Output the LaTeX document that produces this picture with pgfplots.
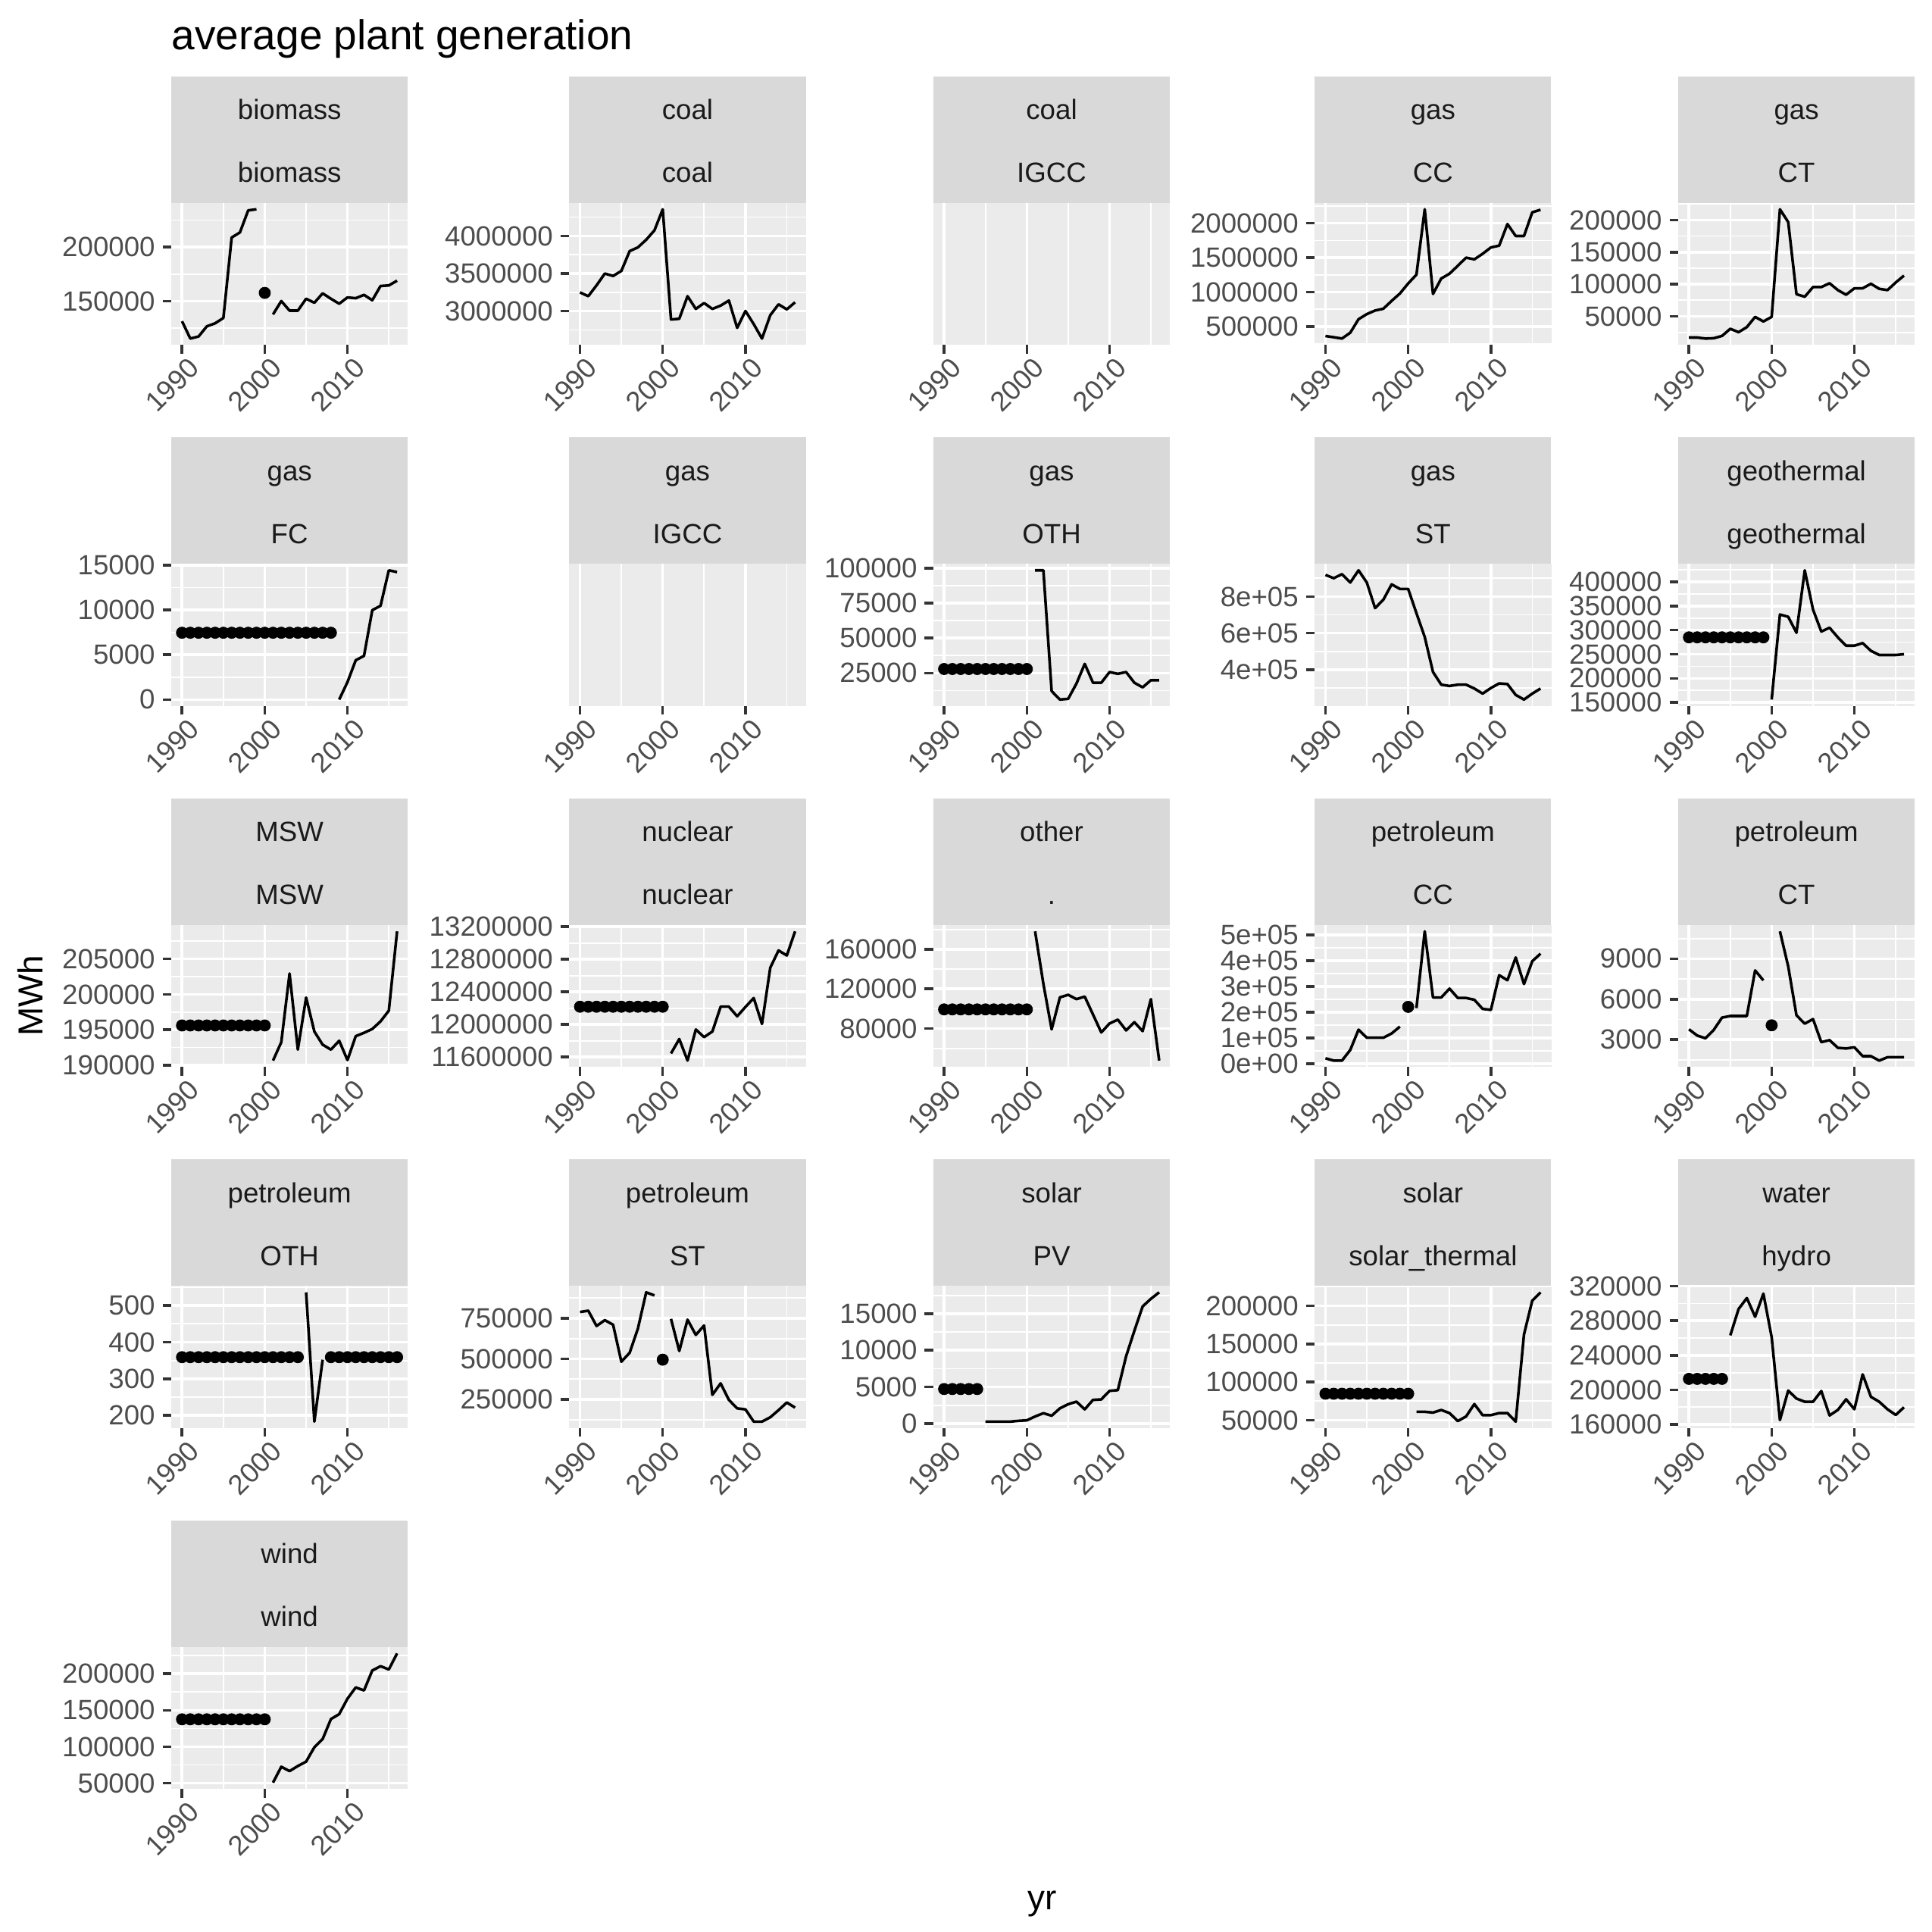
\documentclass[border=0pt]{standalone}
\usepackage{fontspec}
\setmainfont{Liberation Sans}
\usepackage{pgfplots}
\pgfplotsset{compat=1.18}
\definecolor{gg92}{HTML}{EBEBEB}
\definecolor{gg85}{HTML}{D9D9D9}
\definecolor{gg30}{HTML}{4D4D4D}
\definecolor{gg20}{HTML}{333333}
\definecolor{gg10}{HTML}{1A1A1A}
\def\u{0.390306bp}
\pgfplotsset{
  gg/.style={
    scale only axis, width=74.94bp, height=45.04bp,
    anchor=north west,
    xmin=1988.7, xmax=2017.3, enlarge x limits=false,
    enlarge y limits=0.05,
    xtick={1990,2000,2010}, xticklabels={1990,2000,2010},
    minor xtick={1995,2005,2015},
    scaled x ticks=false, scaled y ticks=false,
    axis background/.style={fill=gg92},
    axis line style={draw=none},
    grid=both,
    major grid style={draw=white, line width=0.85bp},
    minor grid style={draw=white, line width=0.43bp},
    tick align=outside, tick pos=left,
    major tick length=2.75bp, minor tick length=0pt,
    major tick style={draw=gg20, line width=0.85bp},
    tick label style={font=\fontsize{8.8bp}{10bp}\selectfont, text=gg30},
    xticklabel style={rotate=45, anchor=north east, inner sep=0pt, xshift=0.8bp, yshift=-1.5bp},
    yticklabel style={anchor=east, inner sep=0pt, xshift=-2.2bp},
  },
  ggline/.style={black, no marks, line width=0.85bp, line join=round, unbounded coords=jump},
  ggpt/.style={only marks, mark=*, mark size=1.8bp, mark options={draw=black, fill=black, line width=0.2bp}},
  ggempty/.style={ymin=0, ymax=1, enlarge y limits=false, ytick=\empty, minor ytick=\empty},
}
\newcommand\strip[4]{%
  \fill[gg85] ({#1},{#2-102.6}) rectangle ({#1+192},{#2});
  \node[anchor=base, inner sep=0pt, text=gg10, font=\fontsize{8.8bp}{10bp}\selectfont] at ({#1+96},{#2-67.6}) {#3};
  \node[anchor=base, inner sep=0pt, text=gg10, font=\fontsize{8.8bp}{10bp}\selectfont] at ({#1+96},{#2-16.6}) {#4};
}
\begin{document}
\begin{tikzpicture}
\path[use as bounding box] (0,0) rectangle ({1568*\u},{-1568*\u});
\begin{scope}[x=\u, y=-\u]
\node[anchor=base west, inner sep=0pt, font=\fontsize{13.2bp}{15bp}\selectfont] at (139,40) {average plant generation};
\node[anchor=base, inner sep=0pt, font=\fontsize{11bp}{13bp}\selectfont] at (846,1550) {yr};
\node[anchor=base, rotate=90, inner sep=0pt, font=\fontsize{11bp}{13bp}\selectfont] at (35,808) {MWh};
\strip{139}{164.6}{biomass}{biomass}
\strip{462}{164.6}{coal}{coal}
\strip{757.5}{164.6}{coal}{IGCC}
\strip{1067}{164.6}{gas}{CC}
\strip{1362}{164.6}{gas}{CT}
\strip{139}{457.6}{gas}{FC}
\strip{462}{457.6}{gas}{IGCC}
\strip{757.5}{457.6}{gas}{OTH}
\strip{1067}{457.6}{gas}{ST}
\strip{1362}{457.6}{geothermal}{geothermal}
\strip{139}{750.6}{MSW}{MSW}
\strip{462}{750.6}{nuclear}{nuclear}
\strip{757.5}{750.6}{other}{.}
\strip{1067}{750.6}{petroleum}{CC}
\strip{1362}{750.6}{petroleum}{CT}
\strip{139}{1043.6}{petroleum}{OTH}
\strip{462}{1043.6}{petroleum}{ST}
\strip{757.5}{1043.6}{solar}{PV}
\strip{1067}{1043.6}{solar}{solar\_thermal}
\strip{1362}{1043.6}{water}{hydro}
\strip{139}{1336.6}{wind}{wind}
\end{scope}

% ---------- row 1
\begin{axis}[gg, at={({139*\u},{-164.6*\u})},
  ytick={150000,200000}, yticklabels={150000,200000}, minor ytick={125000,175000,225000}]
\addplot[ggline] coordinates {(1990,131500)(1991,115500)(1992,117400)(1993,126800)(1994,129600)(1995,134500)(1996,208900)(1997,213600)(1998,234000)(1999,235000)(2000,nan)(2001,137800)(2002,150200)(2003,141300)(2004,141300)(2005,152300)(2006,148600)(2007,157300)(2008,152300)(2009,147700)(2010,153500)(2011,152800)(2012,155900)(2013,150900)(2014,164100)(2015,164600)(2016,169000)};
\addplot[ggpt] coordinates {(2000,157700)};
\end{axis}

\begin{axis}[gg, at={({462*\u},{-164.6*\u})},
  ytick={3000000,3500000,4000000}, yticklabels={3000000,3500000,4000000}, minor ytick={2750000,3250000,3750000,4250000}]
\addplot[ggline] coordinates {(1990,3249000)(1991,3199000)(1992,3343000)(1993,3500000)(1994,3468000)(1995,3535000)(1996,3798000)(1997,3848000)(1998,3949000)(1999,4074000)(2000,4354000)(2001,2889000)(2002,2899000)(2003,3199000)(2004,3030000)(2005,3108000)(2006,3030000)(2007,3074000)(2008,3141000)(2009,2778000)(2010,3003000)(2011,2828000)(2012,2636000)(2013,2946000)(2014,3091000)(2015,3024000)(2016,3118000)};
\end{axis}

\begin{axis}[gg, ggempty, at={({757.5*\u},{-164.6*\u})}]
\end{axis}

\begin{axis}[gg, at={({1067*\u},{-164.6*\u})},
  ytick={500000,1000000,1500000,2000000}, yticklabels={500000,1000000,1500000,2000000}, minor ytick={250000,750000,1250000,1750000,2250000}]
\addplot[ggline] coordinates {(1990,363000)(1991,345000)(1992,326000)(1993,411000)(1994,607000)(1995,681000)(1996,733000)(1997,759000)(1998,873000)(1999,980000)(2000,1126000)(2001,1254000)(2002,2203000)(2003,973000)(2004,1198000)(2005,1268000)(2006,1383000)(2007,1501000)(2008,1476000)(2009,1557000)(2010,1649000)(2011,1675000)(2012,1989000)(2013,1815000)(2014,1815000)(2015,2159000)(2016,2196000)};
\end{axis}

\begin{axis}[gg, at={({1362*\u},{-164.6*\u})},
  ytick={50000,100000,150000,200000}, yticklabels={50000,100000,150000,200000}, minor ytick={25000,75000,125000,175000,225000}]
\addplot[ggline] coordinates {(1990,17100)(1991,17100)(1992,15500)(1993,16000)(1994,19600)(1995,30700)(1996,25400)(1997,33300)(1998,49200)(1999,42100)(2000,49200)(2001,216700)(2002,196800)(2003,84500)(2004,80600)(2005,95600)(2006,95600)(2007,101600)(2008,90900)(2009,83700)(2010,93700)(2011,93700)(2012,100800)(2013,92900)(2014,90900)(2015,102800)(2016,113500)};
\end{axis}

% ---------- row 2
\begin{axis}[gg, at={({139*\u},{-457.6*\u})},
  ytick={0,5000,10000,15000}, yticklabels={0,5000,10000,15000}, minor ytick={2500,7500,12500}]
\addplot[ggpt] coordinates {(1990,7460)(1991,7460)(1992,7460)(1993,7460)(1994,7460)(1995,7460)(1996,7460)(1997,7460)(1998,7460)(1999,7460)(2000,7460)(2001,7460)(2002,7460)(2003,7460)(2004,7460)(2005,7460)(2006,7460)(2007,7460)(2008,7460)};
\addplot[ggline] coordinates {(2009,0)(2010,1950)(2011,4390)(2012,4880)(2013,9980)(2014,10470)(2015,14430)(2016,14230)};
\end{axis}

\begin{axis}[gg, ggempty, at={({462*\u},{-457.6*\u})}]
\end{axis}

\begin{axis}[gg, at={({757.5*\u},{-457.6*\u})},
  ytick={25000,50000,75000,100000}, yticklabels={25000,50000,75000,100000}, minor ytick={12500,37500,62500,87500}]
\addplot[ggpt] coordinates {(1990,27900)(1991,27900)(1992,27900)(1993,27900)(1994,27900)(1995,27900)(1996,27900)(1997,27900)(1998,27900)(1999,27900)(2000,27900)};
\addplot[ggline] coordinates {(2001,98400)(2002,98400)(2003,12070)(2004,6060)(2005,6600)(2006,17500)(2007,31550)(2008,18080)(2009,18080)(2010,25730)(2011,24450)(2012,25730)(2013,18080)(2014,14800)(2015,19900)(2016,19900)};
\end{axis}

\begin{axis}[gg, at={({1067*\u},{-457.6*\u})},
  ytick={400000,600000,800000}, yticklabels={4e+05,6e+05,8e+05}, minor ytick={300000,500000,700000,900000}]
\addplot[ggline] coordinates {(1990,918900)(1991,900700)(1992,923000)(1993,877000)(1994,944000)(1995,877000)(1996,737000)(1997,783000)(1998,867000)(1999,842000)(2000,842000)(2001,709000)(2002,579000)(2003,387000)(2004,317500)(2005,310500)(2006,317500)(2007,317500)(2008,296500)(2009,268500)(2010,299300)(2011,324500)(2012,321000)(2013,261500)(2014,236000)(2015,268500)(2016,296500)};
\end{axis}

\begin{axis}[gg, at={({1362*\u},{-457.6*\u})},
  ytick={150000,200000,250000,300000,350000,400000}, yticklabels={150000,200000,250000,300000,350000,400000}, minor ytick={175000,225000,275000,325000,375000,425000}]
\addplot[ggpt] coordinates {(1990,285000)(1991,285000)(1992,285000)(1993,285000)(1994,285000)(1995,285000)(1996,285000)(1997,285000)(1998,285000)(1999,285000)};
\addplot[ggline] coordinates {(2000,155900)(2001,332400)(2002,327600)(2003,294600)(2004,424100)(2005,342600)(2006,297000)(2007,305000)(2008,285000)(2009,267700)(2010,267700)(2011,273100)(2012,257000)(2013,248400)(2014,248400)(2015,248400)(2016,250000)};
\end{axis}

% ---------- row 3
\begin{axis}[gg, at={({139*\u},{-750.6*\u})},
  ytick={190000,195000,200000,205000}, yticklabels={190000,195000,200000,205000}, minor ytick={192500,197500,202500,207500}]
\addplot[ggpt] coordinates {(1990,195610)(1991,195610)(1992,195610)(1993,195610)(1994,195610)(1995,195610)(1996,195610)(1997,195610)(1998,195610)(1999,195610)(2000,195610)};
\addplot[ggline] coordinates {(2001,190650)(2002,193250)(2003,202940)(2004,192200)(2005,199550)(2006,194750)(2007,192900)(2008,192200)(2009,193450)(2010,190720)(2011,194100)(2012,194570)(2013,195110)(2014,196190)(2015,197700)(2016,208900)};
\end{axis}

\begin{axis}[gg, at={({462*\u},{-750.6*\u})},
  ytick={11600000,12000000,12400000,12800000,13200000}, yticklabels={11600000,12000000,12400000,12800000,13200000}, minor ytick={11800000,12200000,12600000,13000000}]
\addplot[ggpt] coordinates {(1990,12217900)(1991,12217900)(1992,12217900)(1993,12217900)(1994,12217900)(1995,12217900)(1996,12217900)(1997,12217900)(1998,12217900)(1999,12217900)(2000,12217900)};
\addplot[ggline] coordinates {(2001,11643600)(2002,11821000)(2003,11556000)(2004,11938000)(2005,11844000)(2006,11913000)(2007,12218000)(2008,12218000)(2009,12100000)(2010,12215000)(2011,12324000)(2012,12006000)(2013,12697000)(2014,12909000)(2015,12847000)(2016,13144000)};
\end{axis}

\begin{axis}[gg, at={({757.5*\u},{-750.6*\u})},
  ytick={80000,120000,160000}, yticklabels={80000,120000,160000}, minor ytick={60000,100000,140000,180000}]
\addplot[ggpt] coordinates {(1990,99350)(1991,99350)(1992,99350)(1993,99350)(1994,99350)(1995,99350)(1996,99350)(1997,99350)(1998,99350)(1999,99350)(2000,99350)};
\addplot[ggline] coordinates {(2001,178060)(2002,125160)(2003,79230)(2004,111480)(2005,114060)(2006,109700)(2007,112260)(2008,94190)(2009,76130)(2010,85160)(2011,89030)(2012,78190)(2013,86450)(2014,77420)(2015,109700)(2016,47740)};
\end{axis}

\begin{axis}[gg, at={({1067*\u},{-750.6*\u})},
  ytick={0,100000,200000,300000,400000,500000}, yticklabels={0e+00,1e+05,2e+05,3e+05,4e+05,5e+05}, minor ytick={50000,150000,250000,350000,450000}]
\addplot[ggline] coordinates {(1990,21700)(1991,12800)(1992,12800)(1993,54100)(1994,132900)(1995,101400)(1996,101400)(1997,101400)(1998,118100)(1999,144700)(2000,nan)(2001,216500)(2002,514800)(2003,257900)(2004,257900)(2005,292300)(2006,255900)(2007,255900)(2008,249000)(2009,213600)(2010,209700)(2011,344500)(2012,324800)(2013,413400)(2014,310000)(2015,398600)(2016,428100)};
\addplot[ggpt] coordinates {(2000,221500)};
\end{axis}

\begin{axis}[gg, at={({1362*\u},{-750.6*\u})},
  ytick={3000,6000,9000}, yticklabels={3000,6000,9000}, minor ytick={1500,4500,7500,10500}]
\addplot[ggline] coordinates {(1990,3760)(1991,3300)(1992,3095)(1993,3720)(1994,4630)(1995,4750)(1996,4750)(1997,4750)(1998,8130)(1999,7390)(2000,nan)(2001,11030)(2002,8430)(2003,4800)(2004,4180)(2005,4520)(2006,2810)(2007,2960)(2008,2390)(2009,2340)(2010,2430)(2011,1770)(2012,1770)(2013,1440)(2014,1690)(2015,1690)(2016,1690)};
\addplot[ggpt] coordinates {(2000,4060)};
\end{axis}

% ---------- row 4
\begin{axis}[gg, at={({139*\u},{-1043.6*\u})},
  ytick={200,300,400,500}, yticklabels={200,300,400,500}, minor ytick={250,350,450,550}]
\addplot[ggpt] coordinates {(1990,359)(1991,359)(1992,359)(1993,359)(1994,359)(1995,359)(1996,359)(1997,359)(1998,359)(1999,359)(2000,359)(2001,359)(2002,359)(2003,359)(2004,359)(2008,359)(2009,359)(2010,359)(2011,359)(2012,359)(2013,359)(2014,359)(2015,359)(2016,359)};
\addplot[ggline] coordinates {(2005,536)(2006,183)(2007,352)};
\end{axis}

\begin{axis}[gg, at={({462*\u},{-1043.6*\u})},
  ytick={250000,500000,750000}, yticklabels={250000,500000,750000}, minor ytick={125000,375000,625000,875000}]
\addplot[ggline] coordinates {(1990,789300)(1991,797200)(1992,702800)(1993,739000)(1994,710700)(1995,482700)(1996,537700)(1997,687100)(1998,910400)(1999,891500)(2000,nan)(2001,746900)(2002,548700)(2003,742100)(2004,647800)(2005,706000)(2006,278300)(2007,349100)(2008,246900)(2009,195000)(2010,188700)(2011,113200)(2012,113200)(2013,140000)(2014,184000)(2015,231100)(2016,199700)};
\addplot[ggpt] coordinates {(2000,495300)};
\end{axis}

\begin{axis}[gg, at={({757.5*\u},{-1043.6*\u})},
  ytick={0,5000,10000,15000}, yticklabels={0,5000,10000,15000}, minor ytick={2500,7500,12500,17500}]
\addplot[ggpt] coordinates {(1990,4720)(1991,4720)(1992,4720)(1993,4720)(1994,4720)};
\addplot[ggline] coordinates {(1995,280)(1996,280)(1997,280)(1998,280)(1999,384)(2000,454)(2001,977)(2002,1430)(2003,1080)(2004,2090)(2005,2650)(2006,3000)(2007,1950)(2008,3240)(2009,3310)(2010,4470)(2011,4570)(2012,9180)(2013,12660)(2014,15980)(2015,17020)(2016,17900)};
\end{axis}

\begin{axis}[gg, at={({1067*\u},{-1043.6*\u})},
  ytick={50000,100000,150000,200000}, yticklabels={50000,100000,150000,200000}, minor ytick={75000,125000,175000,225000}]
\addplot[ggpt] coordinates {(1990,84770)(1991,84770)(1992,84770)(1993,84770)(1994,84770)(1995,84770)(1996,84770)(1997,84770)(1998,84770)(1999,84770)(2000,84770)};
\addplot[ggline] coordinates {(2001,61080)(2002,61080)(2003,60060)(2004,63450)(2005,59390)(2006,48900)(2007,54980)(2008,71230)(2009,56670)(2010,56670)(2011,59390)(2012,59390)(2013,48210)(2014,162400)(2015,206800)(2016,217600)};
\end{axis}

\begin{axis}[gg, at={({1362*\u},{-1043.6*\u})}, ymin=155700, ymax=320400, enlarge y limits=false,
  ytick={160000,200000,240000,280000,320000}, yticklabels={160000,200000,240000,280000,320000}, minor ytick={180000,220000,260000,300000}]
\addplot[ggpt] coordinates {(1990,212700)(1991,212700)(1992,212700)(1993,212700)(1994,212700)};
\addplot[ggline] coordinates {(1995,263050)(1996,293600)(1997,306300)(1998,284600)(1999,311400)(2000,261000)(2001,165000)(2002,199100)(2003,189900)(2004,186200)(2005,186200)(2006,198600)(2007,170300)(2008,176700)(2009,189000)(2010,177500)(2011,217900)(2012,191900)(2013,186200)(2014,177500)(2015,170900)(2016,179800)};
\end{axis}

% ---------- row 5
\begin{axis}[gg, at={({139*\u},{-1336.6*\u})},
  ytick={50000,100000,150000,200000}, yticklabels={50000,100000,150000,200000}, minor ytick={75000,125000,175000,225000}]
\addplot[ggpt] coordinates {(1990,137600)(1991,137600)(1992,137600)(1993,137600)(1994,137600)(1995,137600)(1996,137600)(1997,137600)(1998,137600)(1999,137600)(2000,137600)};
\addplot[ggline] coordinates {(2001,50700)(2002,72500)(2003,66500)(2004,73500)(2005,79500)(2006,99300)(2007,110500)(2008,137900)(2009,144700)(2010,165900)(2011,181400)(2012,177200)(2013,204600)(2014,210500)(2015,206000)(2016,228100)};
\end{axis}
\end{tikzpicture}
\end{document}
